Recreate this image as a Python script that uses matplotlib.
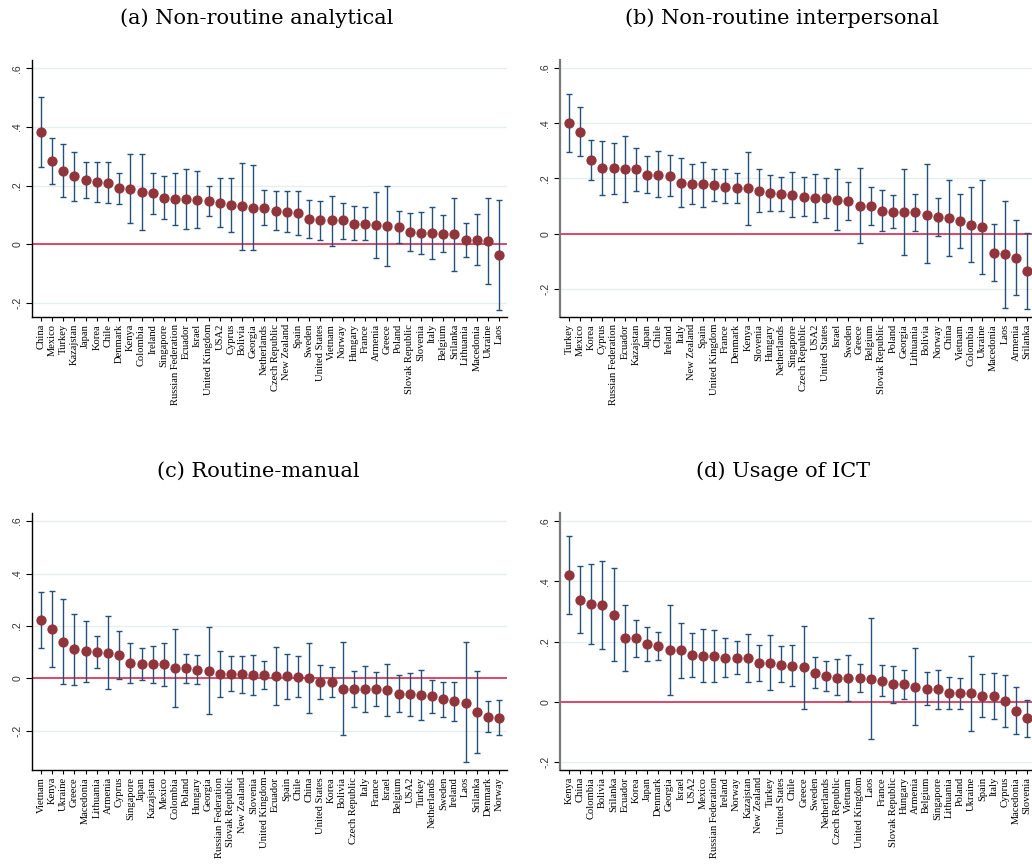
"""
plot.py

Country coefficient plots with 95% intervals for four task measures.
"""

import matplotlib
matplotlib.use("Agg")
import matplotlib.pyplot as plt

# ---- (a) Non-routine analytical ----
countries_a = ["China", "Mexico", "Turkey", "Kazajstan", "Japan", "Korea", "Chile",
               "Denmark", "Kenya", "Colombia", "Ireland", "Singapore", "Russian Federation",
               "Ecuador", "Israel", "United Kingdom", "USA2", "Cyprus", "Bolivia", "Georgia",
               "Netherlands", "Czech Republic", "New Zealand", "Spain", "Sweden",
               "United States", "Vietnam", "Norway", "Hungary", "France", "Armenia", "Greece",
               "Poland", "Slovak Republic", "Slovenia", "Italy", "Belgium", "Srilanka",
               "Lithuania", "Macedonia", "Ukraine", "Laos"]
coef_a = [0.382, 0.284, 0.251, 0.231, 0.220, 0.213, 0.210, 0.191, 0.189, 0.177, 0.174,
          0.158, 0.155, 0.155, 0.152, 0.148, 0.142, 0.133, 0.131, 0.125, 0.125, 0.115,
          0.110, 0.105, 0.086, 0.082, 0.081, 0.081, 0.070, 0.069, 0.065, 0.063, 0.058,
          0.042, 0.039, 0.038, 0.036, 0.034, 0.016, 0.016, 0.010, -0.036]
hi_a = [0.501, 0.361, 0.342, 0.315, 0.282, 0.281, 0.282, 0.244, 0.306, 0.306, 0.244,
        0.231, 0.244, 0.256, 0.251, 0.200, 0.225, 0.227, 0.278, 0.269, 0.185, 0.182,
        0.180, 0.183, 0.152, 0.149, 0.166, 0.142, 0.130, 0.126, 0.177, 0.200, 0.115,
        0.108, 0.111, 0.127, 0.101, 0.159, 0.074, 0.103, 0.159, 0.150]
lo_a = [0.263, 0.205, 0.160, 0.148, 0.158, 0.145, 0.139, 0.138, 0.072, 0.049, 0.103,
        0.085, 0.067, 0.053, 0.055, 0.097, 0.060, 0.042, -0.018, -0.019, 0.065, 0.048,
        0.043, 0.030, 0.022, 0.014, -0.005, 0.019, 0.014, 0.013, -0.048, -0.074, 0.003,
        -0.024, -0.034, -0.050, -0.027, -0.090, -0.042, -0.072, -0.135, -0.223]

# ---- (b) Non-routine interpersonal ----
countries_b = ["Turkey", "Mexico", "Korea", "Cyprus", "Russian Federation", "Ecuador",
               "Kazajstan", "Japan", "Chile", "Ireland", "Italy", "New Zealand", "Spain",
               "United Kingdom", "France", "Denmark", "Kenya", "Slovenia", "Hungary",
               "Netherlands", "Singapore", "Czech Republic", "USA2", "United States",
               "Israel", "Sweden", "Greece", "Belgium", "Slovak Republic", "Poland",
               "Georgia", "Lithuania", "Bolivia", "Norway", "China", "Vietnam", "Colombia",
               "Ukraine", "Macedonia", "Laos", "Armenia", "Srilanka"]
coef_b = [0.400, 0.369, 0.267, 0.237, 0.236, 0.235, 0.234, 0.214, 0.213, 0.210, 0.184,
          0.180, 0.178, 0.176, 0.170, 0.165, 0.164, 0.154, 0.147, 0.143, 0.141, 0.134,
          0.130, 0.128, 0.123, 0.118, 0.100, 0.099, 0.083, 0.078, 0.078, 0.077, 0.066,
          0.061, 0.055, 0.047, 0.033, 0.024, -0.069, -0.075, -0.088, -0.135]
hi_b = [0.505, 0.457, 0.340, 0.336, 0.330, 0.355, 0.312, 0.283, 0.298, 0.286, 0.275,
        0.253, 0.261, 0.233, 0.233, 0.221, 0.296, 0.234, 0.213, 0.206, 0.225, 0.204,
        0.217, 0.200, 0.235, 0.188, 0.237, 0.168, 0.157, 0.139, 0.234, 0.142, 0.254,
        0.130, 0.194, 0.145, 0.169, 0.194, 0.034, 0.120, 0.048, 0.004]
lo_b = [0.296, 0.281, 0.196, 0.140, 0.142, 0.116, 0.154, 0.148, 0.133, 0.136, 0.095,
        0.106, 0.095, 0.120, 0.110, 0.110, 0.033, 0.078, 0.083, 0.083, 0.060, 0.065,
        0.043, 0.058, 0.013, 0.049, -0.034, 0.030, 0.008, 0.021, -0.076, 0.011, -0.106,
        -0.007, -0.082, -0.051, -0.102, -0.145, -0.171, -0.269, -0.224, -0.274]

# ---- (c) Routine-manual ----
countries_c = ["Vietnam", "Kenya", "Ukraine", "Greece", "Macedonia", "Lithuania", "Armenia",
               "Cyprus", "Singapore", "Japan", "Kazajstan", "Mexico", "Colombia", "Poland",
               "Hungary", "Georgia", "Russian Federation", "Slovak Republic", "New Zealand",
               "Slovenia", "United Kingdom", "Ecuador", "Spain", "Chile", "China",
               "United States", "Korea", "Bolivia", "Czech Republic", "Italy", "France",
               "Israel", "Belgium", "USA2", "Turkey", "Netherlands", "Sweden", "Ireland",
               "Laos", "Srilanka", "Denmark", "Norway"]
coef_c = [0.223, 0.188, 0.139, 0.111, 0.103, 0.101, 0.098, 0.089, 0.057, 0.055, 0.053,
          0.053, 0.038, 0.038, 0.033, 0.029, 0.018, 0.018, 0.017, 0.014, 0.014, 0.009,
          0.008, 0.006, 0.000, -0.014, -0.015, -0.039, -0.039, -0.041, -0.041, -0.046,
          -0.059, -0.060, -0.062, -0.069, -0.079, -0.087, -0.093, -0.127, -0.146, -0.151]
hi_c = [0.328, 0.333, 0.302, 0.246, 0.220, 0.162, 0.239, 0.181, 0.134, 0.117, 0.125,
        0.136, 0.187, 0.094, 0.090, 0.195, 0.106, 0.084, 0.087, 0.090, 0.067, 0.121,
        0.094, 0.085, 0.135, 0.052, 0.043, 0.140, 0.029, 0.048, 0.024, 0.055, 0.014,
        0.022, 0.032, -0.005, -0.013, -0.013, 0.137, 0.028, -0.088, -0.084]
lo_c = [0.117, 0.045, -0.023, -0.024, -0.013, 0.041, -0.042, -0.003, -0.018, -0.008,
        -0.017, -0.028, -0.109, -0.018, -0.020, -0.135, -0.070, -0.048, -0.055, -0.062,
        -0.041, -0.102, -0.080, -0.070, -0.134, -0.080, -0.071, -0.218, -0.108, -0.130,
        -0.106, -0.145, -0.129, -0.144, -0.158, -0.131, -0.146, -0.162, -0.321, -0.284,
        -0.204, -0.218]

# ---- (d) Usage of ICT ----
countries_d = ["Kenya", "China", "Colombia", "Bolivia", "Srilanka", "Ecuador", "Korea",
               "Japan", "Denmark", "Georgia", "Israel", "USA2", "Mexico",
               "Russian Federation", "Ireland", "Norway", "Kazajstan", "New Zealand",
               "Turkey", "United States", "Chile", "Greece", "Sweden", "Netherlands",
               "Czech Republic", "Vietnam", "United Kingdom", "Laos", "France",
               "Slovak Republic", "Hungary", "Armenia", "Belgium", "Singapore", "Lithuania",
               "Poland", "Ukraine", "Spain", "Italy", "Cyprus", "Macedonia", "Slovenia"]
coef_d = [0.421, 0.339, 0.325, 0.322, 0.290, 0.212, 0.211, 0.192, 0.186, 0.171, 0.171,
          0.156, 0.154, 0.153, 0.147, 0.146, 0.146, 0.129, 0.128, 0.124, 0.120, 0.115,
          0.097, 0.086, 0.081, 0.080, 0.078, 0.077, 0.071, 0.059, 0.059, 0.051, 0.044,
          0.043, 0.031, 0.029, 0.029, 0.021, 0.020, 0.002, -0.030, -0.055]
hi_d = [0.551, 0.452, 0.458, 0.469, 0.445, 0.323, 0.272, 0.249, 0.233, 0.322, 0.262,
        0.230, 0.241, 0.239, 0.212, 0.201, 0.227, 0.188, 0.223, 0.185, 0.189, 0.253,
        0.150, 0.136, 0.141, 0.157, 0.125, 0.280, 0.122, 0.120, 0.106, 0.179, 0.098,
        0.107, 0.082, 0.078, 0.151, 0.094, 0.097, 0.088, 0.049, 0.007]
lo_d = [0.293, 0.228, 0.193, 0.175, 0.135, 0.101, 0.150, 0.136, 0.139, 0.023, 0.080,
        0.084, 0.065, 0.067, 0.084, 0.093, 0.066, 0.071, 0.038, 0.065, 0.053, -0.024,
        0.045, 0.035, 0.022, 0.003, 0.034, -0.123, 0.020, -0.003, 0.009, -0.077,
        -0.010, -0.022, -0.022, -0.024, -0.098, -0.050, -0.057, -0.084, -0.108, -0.117]

TITLES = ["(a) Non-routine analytical", "(b) Non-routine interpersonal",
          "(c) Routine-manual", "(d) Usage of ICT"]

NAVY = "#24507a"
CRANBERRY = "#90353b"
GRID = "#e6eff0"


def draw_panel(ax, countries, coef, lo, hi, ylim, spine_color):
    """One coefficient plot: dots with capped confidence intervals."""
    x = list(range(len(countries)))
    yerr = [[c - l for c, l in zip(coef, lo)], [h - c for c, h in zip(coef, hi)]]

    for t in [-0.2, 0, 0.2, 0.4, 0.6]:
        ax.axhline(t, color=GRID, lw=1.0, zorder=0)
    ax.axhline(0, color="#d7193f", lw=1.1, zorder=1)

    ax.errorbar(x, coef, yerr=yerr, fmt="none", ecolor=NAVY, elinewidth=1.0,
                capsize=2.3, capthick=1.0, zorder=2)
    ax.plot(x, coef, "o", color=CRANBERRY, ms=6.4, mec=CRANBERRY, zorder=3)

    ax.set_xlim(-0.8, 41.7)
    ax.set_ylim(*ylim)
    ax.set_yticks([-0.2, 0, 0.2, 0.4, 0.6])
    ax.set_yticklabels(["-.2", "0", ".2", ".4", ".6"], rotation=90, va="center",
                       fontsize=7.6, family="Liberation Sans", color="#333333")
    ax.set_xticks(x)
    ax.set_xticklabels(countries, rotation=90, fontsize=7.6, family="Liberation Serif")
    ax.tick_params(axis="x", length=3, width=0.8, pad=2)
    ax.tick_params(axis="y", length=4, width=0.8, pad=3)

    for side in ["top", "right"]:
        ax.spines[side].set_visible(False)
    ax.spines["bottom"].set_color("black")
    ax.spines["bottom"].set_linewidth(1.0)
    ax.spines["left"].set_color(spine_color)
    ax.spines["left"].set_linewidth(1.0 if spine_color == "black" else 1.6)


def main() -> None:
    W, H = 1032, 864
    fig = plt.figure(figsize=(W / 100, H / 100), dpi=100)

    panels = [
        (countries_a, coef_a, lo_a, hi_a, (-0.248, 0.628), "black", 32, 60),
        (countries_b, coef_b, lo_b, hi_b, (-0.302, 0.629), "#7a7a7a", 560, 60),
        (countries_c, coef_c, lo_c, hi_c, (-0.350, 0.631), "black", 32, 513),
        (countries_d, coef_d, lo_d, hi_d, (-0.226, 0.627), "#7a7a7a", 560, 513),
    ]
    title_pos = [(257, 18), (782, 18), (258, 471), (783, 471)]

    for (ctry, cf, lo, hi, ylim, sc, left, top), title, (tx, ty) in zip(panels, TITLES, title_pos):
        ax = fig.add_axes([left / W, 1 - (top + 257) / H, 475 / W, 257 / H])
        draw_panel(ax, ctry, cf, lo, hi, ylim, sc)
        fig.text(tx / W, 1 - ty / H, title, ha="center", va="center",
                 fontsize=15, family="DejaVu Serif")

    fig.savefig("out.png", dpi=100)


if __name__ == "__main__":
    main()
